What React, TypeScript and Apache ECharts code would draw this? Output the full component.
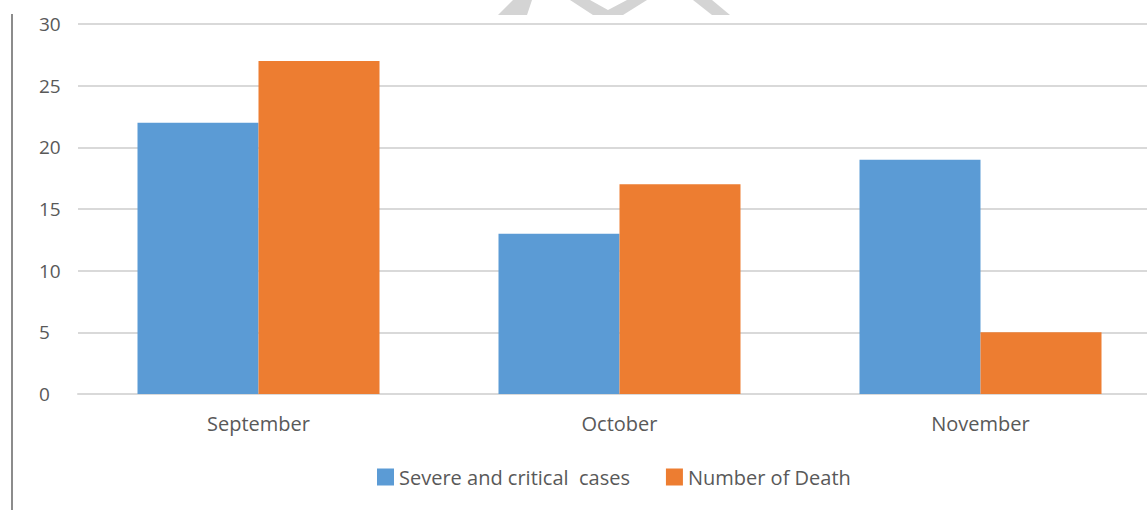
import React, { useEffect, useRef } from "react";
import * as echarts from "echarts";

const categories = ["September", "October", "November"];
const severeCases = [22, 13, 19];
const deaths = [27, 17, 5];
const seriesNames = ["Severe and critical  cases", "Number of Death"];

export default function App() {
  const ref = useRef<HTMLDivElement>(null);
  useEffect(() => {
    if (!ref.current) return;
    const chart = echarts.init(ref.current, null, { renderer: "svg" });
    const font = "'Open Sans', 'Noto Sans', sans-serif";
    chart.setOption({
      animation: false,
      backgroundColor: "#ffffff",
      grid: { left: 78, top: 24, bottom: 116, right: 14 },
      legend: {
        bottom: 18,
        left: 372,
        itemWidth: 17,
        itemHeight: 17,
        itemGap: 36,
        icon: "rect",
        textStyle: { fontFamily: font, fontSize: 20, color: "#595959" },
        data: seriesNames,
      },
      xAxis: {
        type: "category",
        data: categories,
        axisLine: { show: true, lineStyle: { color: "#d9d9d9", width: 2 } },
        axisTick: { show: false },
        axisLabel: { fontFamily: font, fontSize: 20, color: "#595959", margin: 19 },
      },
      yAxis: {
        type: "value",
        min: 0,
        max: 30,
        interval: 5,
        axisLine: { show: false },
        axisTick: { show: false },
        splitLine: { lineStyle: { color: "#d9d9d9", width: 2 } },
        axisLabel: { fontFamily: font, fontSize: 19, color: "#595959", align: "left", margin: 39 },
      },
      series: [
        {
          name: seriesNames[0],
          type: "bar",
          data: severeCases,
          barWidth: 121,
          barGap: "0%",
          itemStyle: { color: "#5B9BD5" },
        },
        {
          name: seriesNames[1],
          type: "bar",
          data: deaths,
          barWidth: 121,
          barGap: "0%",
          itemStyle: { color: "#ED7D31" },
        },
      ],
      graphic: [
        {
          type: "line",
          shape: { x1: 12, y1: 14, x2: 12, y2: 510 },
          style: { stroke: "#8c8c8c", lineWidth: 2 },
        },
        {
          type: "polygon",
          shape: { points: [[498, 15], [527, 15], [532, 0], [513, 0]] },
          style: { fill: "#d4d4d4" },
        },
        {
          type: "polygon",
          shape: { points: [[570, 0], [590, 0], [608, 10], [627, 0], [647, 0], [623, 15], [593, 15]] },
          style: { fill: "#d4d4d4" },
        },
        {
          type: "polygon",
          shape: { points: [[693, 0], [712, 0], [730, 15], [712, 15]] },
          style: { fill: "#d4d4d4" },
        },
      ],
    });
    return () => chart.dispose();
  }, []);
  return (
    <div style={{ width: 1147, height: 510, position: "absolute", left: 0, top: 0, overflow: "hidden" }}>
      <div ref={ref} style={{ width: 1175, height: 510 }} />
    </div>
  );
}
